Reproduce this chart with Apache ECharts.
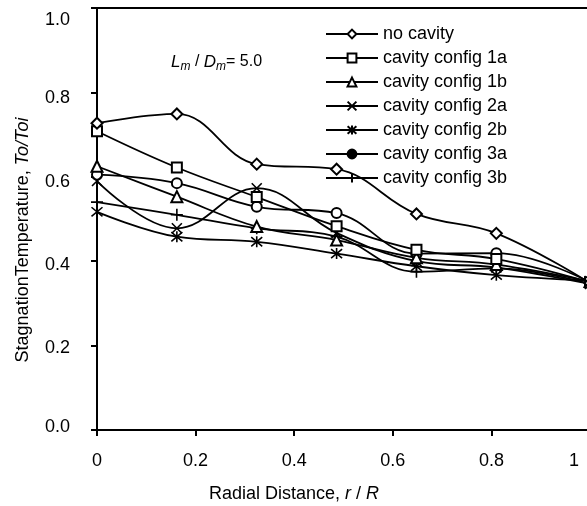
<!DOCTYPE html>
<html>
<head>
<meta charset="utf-8">
<script src="https://cdn.jsdelivr.net/npm/echarts@6/dist/echarts.min.js"></script>
<style>html,body{margin:0;padding:0;background:#fff}#c{width:587px;height:506px}</style>
</head>
<body>
<div id="c"></div>
<script>
const xValues = [0, 0.162, 0.324, 0.486, 0.648, 0.81, 1.0];
const seriesNames = ['no cavity', 'cavity config 1a', 'cavity config 1b', 'cavity config 2a', 'cavity config 2b', 'cavity config 3a', 'cavity config 3b'];
const noCavity = [0.727, 0.749, 0.630, 0.618, 0.512, 0.466, 0.348];
const config1a = [0.708, 0.622, 0.552, 0.483, 0.427, 0.405, 0.350];
const config1b = [0.625, 0.553, 0.482, 0.450, 0.408, 0.392, 0.352];
const config2a = [0.590, 0.478, 0.573, 0.467, 0.400, 0.385, 0.346];
const config2b = [0.517, 0.458, 0.446, 0.418, 0.388, 0.367, 0.354];
const config3a = [0.605, 0.585, 0.529, 0.514, 0.418, 0.419, 0.350];
const config3b = [0.540, 0.510, 0.478, 0.458, 0.375, 0.383, 0.346];
const xTicks = ['0', '0.2', '0.4', '0.6', '0.8', '1'];
const yTicks = ['0.0', '0.2', '0.4', '0.6', '0.8', '1.0'];

const FONT = 'Liberation Sans';
const symX = 'path://M0,0L10,10M10,0L0,10';
const symStar = 'path://M0,0L10,10M10,0L0,10M5,-1L5,11';
const symPlus = 'path://M5,0L5,10M0,5L10,5';

const allValues = [noCavity, config1a, config1b, config2a, config2b, config3a, config3b];
const symbols = ['emptyDiamond', 'emptyRect', 'emptyTriangle', symX, symStar, 'circle', symPlus];
const sizes = [11, 10, 11, 10, 11, 10, 12];

const series = allValues.map((vals, k) => ({
  name: seriesNames[k],
  type: 'line',
  smooth: 0.4,
  symbol: symbols[k],
  symbolSize: sizes[k],
  showAllSymbol: true,
  lineStyle: { color: '#000', width: 1.8 },
  itemStyle: { color: '#000', borderColor: '#000', borderWidth: (k === 3 || k === 4 || k === 6) ? 1.6 : 1.5 },
  emphasis: { disabled: true },
  z: 10 - k,
  data: xValues.map((x, i) => k === 5 ? { value: [x, vals[i]], symbol: 'emptyCircle' } : [x, vals[i]])
}));

const lab = { fontSize: 18, fontFamily: FONT, color: '#000' };
const chart = echarts.init(document.getElementById('c'), null, { renderer: 'canvas' });
chart.setOption({
  animation: false,
  backgroundColor: '#fff',
  textStyle: { fontFamily: FONT },
  grid: { left: 97, top: 8, width: 493, height: 422, outerBoundsMode: 'none', containLabel: false,
    show: true, borderColor: '#000', borderWidth: 2, backgroundColor: 'transparent' },
  legend: {
    orient: 'vertical',
    left: 320,
    top: 20,
    itemWidth: 52,
    itemHeight: 11,
    itemGap: 6,
    data: seriesNames,
    textStyle: { fontSize: 18, color: '#000', fontFamily: FONT },
    selectedMode: false
  },
  xAxis: {
    type: 'value', min: 0, max: 1, interval: 0.2,
    axisLine: { lineStyle: { color: '#000', width: 2 } },
    axisTick: { show: true, length: 6, lineStyle: { color: '#000', width: 2 } },
    axisLabel: { color: '#000', fontSize: 18, margin: 22, fontFamily: FONT,
      formatter: v => {
        const i = Math.round(v / 0.2);
        return i === 5 ? '{r|' + xTicks[i] + '}' : '{n|' + xTicks[i] + '}';
      },
      rich: { n: lab, r: Object.assign({}, lab, { padding: [0, 32, 0, 0] }) } },
    splitLine: { show: false }
  },
  yAxis: {
    type: 'value', min: 0, max: 1, interval: 0.2,
    axisLine: { show: true, lineStyle: { color: '#000', width: 2 } },
    axisTick: { show: true, length: 6, lineStyle: { color: '#000', width: 2 } },
    axisLabel: { color: '#000', fontSize: 18, margin: 27, fontFamily: FONT,
      formatter: v => '{y' + Math.round(v / 0.2) + '|' + yTicks[Math.round(v / 0.2)] + '}',
      rich: {
        y0: Object.assign({}, lab, { padding: [0, 0, 6, 0] }),
        y1: Object.assign({}, lab, { padding: [4, 0, 0, 0] }),
        y2: Object.assign({}, lab, { padding: [8, 0, 0, 0] }),
        y3: Object.assign({}, lab, { padding: [10, 0, 0, 0] }),
        y4: Object.assign({}, lab, { padding: [12, 0, 0, 0] }),
        y5: Object.assign({}, lab, { padding: [24, 0, 0, 0] })
      } },
    splitLine: { show: false }
  },
  graphic: [
    { type: 'text', x: 23, y: 240, rotation: Math.PI / 2,
      style: { text: '{n|StagnationTemperature, }{i|To/Toi}', align: 'center', verticalAlign: 'middle',
        rich: { n: { fontSize: 18, fontFamily: FONT, fill: '#000' }, i: { fontSize: 18, fontFamily: FONT, fontStyle: 'italic', fill: '#000' } } } },
    { type: 'text', x: 294, y: 494,
      style: { text: '{n|Radial Distance, }{i|r}{n| / }{i|R}', align: 'center', verticalAlign: 'middle',
        rich: { n: { fontSize: 18, fontFamily: FONT, fill: '#000' }, i: { fontSize: 18, fontFamily: FONT, fontStyle: 'italic', fill: '#000' } } } },
    { type: 'text', x: 171, y: 62,
      style: { text: '{i|L}{s|m}{n| / }{i|D}{s|m}{n|= 5.0}', align: 'left', verticalAlign: 'middle',
        rich: { n: { fontSize: 16, fontFamily: FONT, fill: '#000' }, i: { fontSize: 17, fontFamily: FONT, fontStyle: 'italic', fill: '#000' },
          s: { fontSize: 12, fontFamily: FONT, fontStyle: 'italic', fill: '#000', padding: [10, 0, 0, 0] } } } }
  ],
  series: series
});
</script>
</body>
</html>
